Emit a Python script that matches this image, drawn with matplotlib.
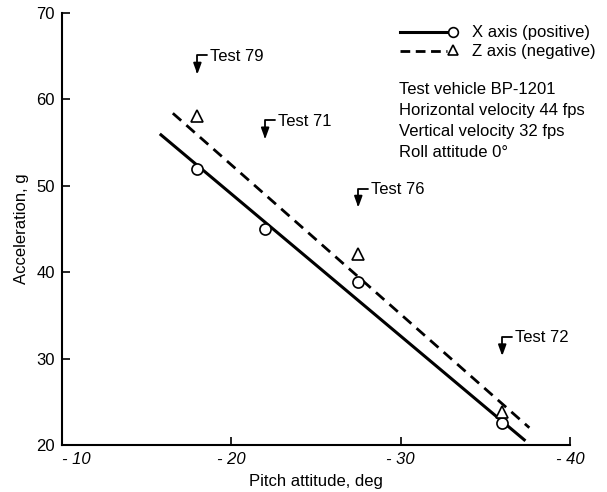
import matplotlib.pyplot as plt

plt.rcParams['font.family'] = ['Liberation Sans', 'DejaVu Sans']

# measured points
pitch_x = [-18, -22, -27.5, -36]
accel_x = [52.0, 45.0, 38.9, 22.5]
pitch_z = [-18, -27.5, -36]
accel_z = [58.1, 42.1, 23.8]

# faired lines
fit_x_pitch = [-15.85, -37.3]
fit_x_accel = [55.9, 20.6]
fit_z_pitch = [-16.55, -37.6]
fit_z_accel = [58.4, 22.0]

# test markers
tests = ["Test 79", "Test 71", "Test 76", "Test 72"]
test_pitch = [-18, -22, -27.5, -36]
test_top = [64.9, 57.4, 49.5, 32.3]

info = ["Test vehicle BP-1201", "Horizontal velocity 44 fps",
        "Vertical velocity 32 fps", "Roll attitude 0\u00b0"]

fig = plt.figure(figsize=(6.07, 4.92), dpi=100)
ax = fig.add_axes([0.102, 0.0955, 0.837, 0.878])

ax.plot(fit_x_pitch, fit_x_accel, color="black", lw=2.2)
ax.plot(fit_z_pitch, fit_z_accel, color="black", lw=2.0, ls=(0, (4, 2.5)))
ax.plot(pitch_x, accel_x, ls="none", marker="o", ms=8, mfc="white",
        mec="black", mew=1.2, zorder=3)
ax.plot(pitch_z, accel_z, ls="none", marker="^", ms=8, mfc="white",
        mec="black", mew=1.2, zorder=3)

for name, p, top in zip(tests, test_pitch, test_top):
    ax.annotate(name, xy=(p, top - 2.0), xytext=(p - 0.75, top + 0.1),
                fontsize=12, ha="left", va="center",
                arrowprops=dict(arrowstyle="-|>,head_length=0.55,head_width=0.2",
                                color="black", lw=1.3, shrinkA=0, shrinkB=0,
                                relpos=(0, 0.55),
                                connectionstyle="angle,angleA=0,angleB=90,rad=0"))

# legend drawn by hand
ax.plot([0.665, 0.757], [0.956, 0.956], transform=ax.transAxes, color="black", lw=2.2)
ax.plot([0.770], [0.956], transform=ax.transAxes, marker="o", ms=7, mfc="white",
        mec="black", mew=1.2)
ax.text(0.807, 0.956, "X axis (positive)", transform=ax.transAxes, fontsize=12,
        va="center")
ax.plot([0.665, 0.757], [0.912, 0.912], transform=ax.transAxes, color="black",
        lw=2.0, ls=(0, (3.5, 2)))
ax.plot([0.770], [0.914], transform=ax.transAxes, marker="^", ms=7, mfc="white",
        mec="black", mew=1.2)
ax.text(0.807, 0.912, "Z axis (negative)", transform=ax.transAxes, fontsize=12,
        va="center")
for i, line in enumerate(info):
    ax.text(0.663, 0.822 - i * 0.0486, line, transform=ax.transAxes, fontsize=12,
            va="center")

ax.set_xlim(-10, -40)
ax.set_ylim(20, 70)
ax.set_xticks([-10, -20, -30, -40])
ax.set_yticks([20, 30, 40, 50, 60, 70])
ax.set_xticklabels(["- 10", "- 20", "- 30", "- 40"], fontstyle="italic")
ax.get_xticklabels()[0].set_horizontalalignment("left")
ax.tick_params(direction="in", length=6, width=1.2, labelsize=12, pad=5)
ax.spines["top"].set_visible(False)
ax.spines["right"].set_visible(False)
ax.spines["left"].set_linewidth(1.5)
ax.spines["bottom"].set_linewidth(1.5)
ax.set_xlabel("Pitch attitude, deg", fontsize=12, labelpad=5)
ax.set_ylabel("Acceleration, g", fontsize=12, labelpad=5)

fig.savefig("out.png", dpi=100)
